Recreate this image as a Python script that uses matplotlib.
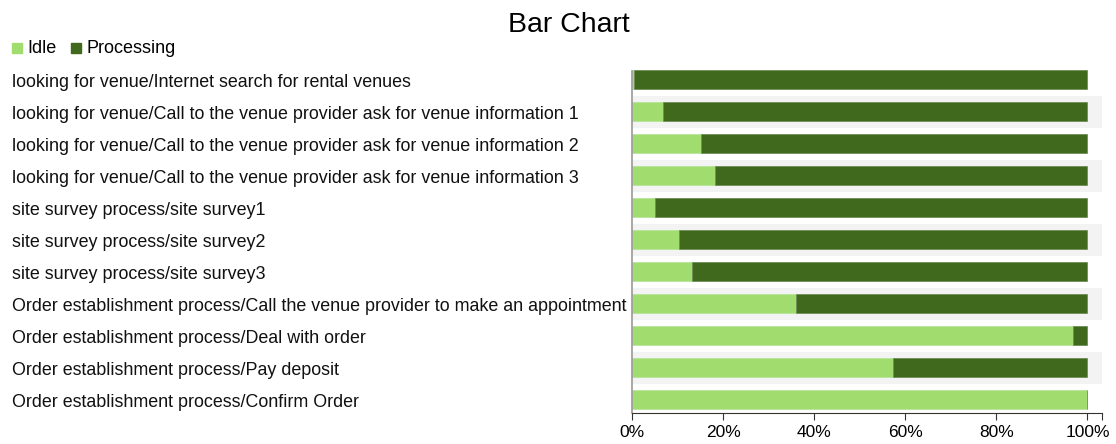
import numpy as np
import matplotlib.pyplot as plt
import matplotlib.transforms as mtransforms
from matplotlib.ticker import FuncFormatter

plt.rcParams['font.family'] = ['Liberation Sans', 'DejaVu Sans']

tasks = [
    'looking for venue/Internet search for rental venues',
    'looking for venue/Call to the venue provider ask for venue information 1',
    'looking for venue/Call to the venue provider ask for venue information 2',
    'looking for venue/Call to the venue provider ask for venue information 3',
    'site survey process/site survey1',
    'site survey process/site survey2',
    'site survey process/site survey3',
    'Order establishment process/Call the venue provider to make an appointment',
    'Order establishment process/Deal with order',
    'Order establishment process/Pay deposit',
    'Order establishment process/Confirm Order',
]
idle = [0.5, 6.7, 15.1, 18.2, 5.0, 10.3, 13.2, 36.0, 96.8, 57.4, 100.0]
processing = [100 - v for v in idle]

c_idle = '#a0dc6e'
c_proc = '#41691e'

W, H = 1116, 444
fig = plt.figure(figsize=(W / 100, H / 100), dpi=100)
top_px, bot_px = 63.5, 413
ax = fig.add_axes([632 / W, 1 - bot_px / H, (1102 - 632) / W, (bot_px - top_px) / H])

y = np.arange(len(tasks))
# alternating row bands
for i in y:
    if i % 2 == 1:
        ax.axhspan(i - 0.5, i + 0.5, color='#f3f3f3', zorder=0, lw=0)

ax.barh(y, idle, height=0.57, color=c_idle, edgecolor='#b8e49a', lw=0.6, zorder=2, label='Idle')
ax.barh(y, processing, left=idle, height=0.57, color=c_proc, edgecolor='#6f8f55', lw=0.6, zorder=2,
        label='Processing')

ax.set_ylim(10.42, -0.5)
ax.set_xlim(0, 103.2)
ax.set_xticks([0, 20, 40, 60, 80, 100, 103.2])
ax.xaxis.set_major_formatter(FuncFormatter(lambda v, p: '' if v > 101 else '%d%%' % v))
ax.tick_params(axis='x', labelsize=12.5, length=5, color='#333333', pad=3.5)
ax.set_yticks([])

for s in ['top', 'right']:
    ax.spines[s].set_visible(False)
ax.spines['left'].set_color('#999999')
ax.spines['left'].set_linewidth(1.2)
ax.spines['left'].set_bounds(10.42, -0.28)
ax.spines['bottom'].set_color('#333333')

trans = mtransforms.blended_transform_factory(fig.transFigure, ax.transData)
trans = trans + mtransforms.ScaledTranslation(0, -2.5 / 100, fig.dpi_scale_trans)
for i, t in enumerate(tasks):
    ax.text(12 / W, i, t, transform=trans, ha='left', va='center', fontsize=12.85, color='#111111')

fig.text(569 / W, 1 - 25 / H, 'Bar Chart', ha='center', va='center', fontsize=20.5)

# legend
fig.patches.append(plt.Rectangle((12 / W, 1 - 53 / H), 10 / W, 10 / H, color=c_idle,
                                 transform=fig.transFigure))
fig.text(27 / W, 1 - 48.5 / H, 'Idle', ha='left', va='center', fontsize=13)
fig.patches.append(plt.Rectangle((71 / W, 1 - 53 / H), 10 / W, 10 / H, color=c_proc,
                                 transform=fig.transFigure))
fig.text(86 / W, 1 - 48.5 / H, 'Processing', ha='left', va='center', fontsize=13)

fig.savefig('out.png', dpi=100)
